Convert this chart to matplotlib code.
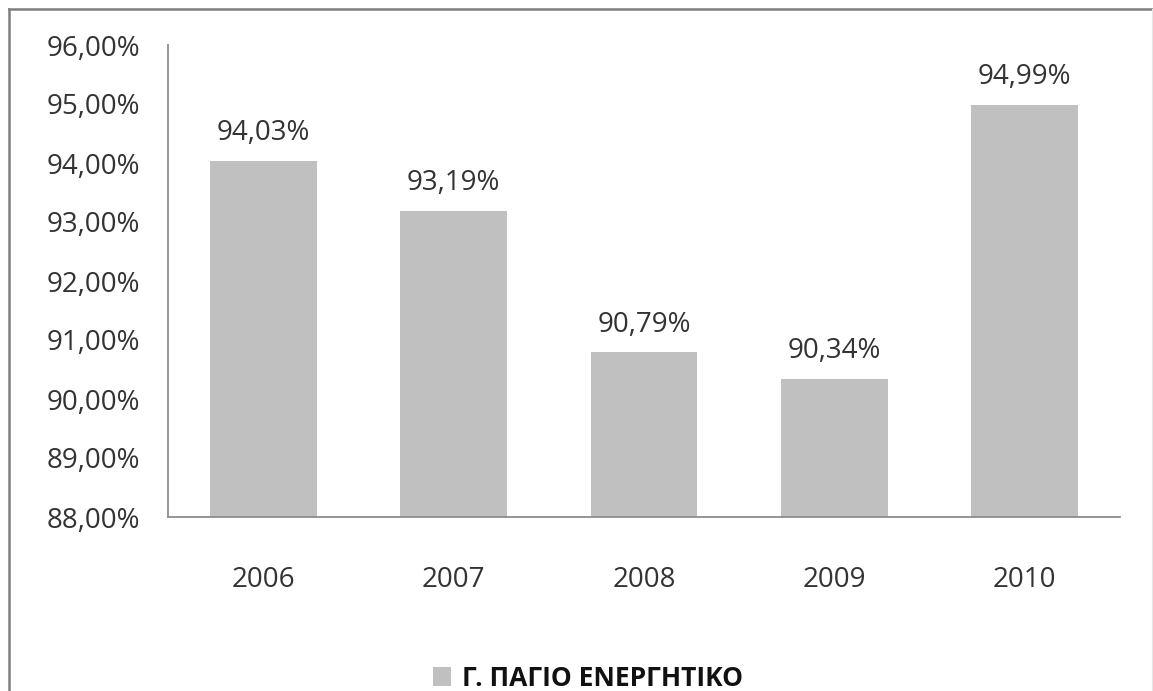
import matplotlib.pyplot as plt
from matplotlib.lines import Line2D

years = ['2006', '2007', '2008', '2009', '2010']
values = [94.03, 93.19, 90.79, 90.34, 94.99]
legend_label = 'Γ. ΠΑΓΙΟ ΕΝΕΡΓΗΤΙΚΟ'

bar_color = '#C0C0C0'
text_color = '#333333'

plt.rcParams['font.family'] = ['Open Sans', 'DejaVu Sans']

fig = plt.figure(figsize=(11.53, 6.91), dpi=100)
ax = fig.add_axes([168 / 1153, 1 - 517 / 691, 952 / 1153, 472 / 691])

x = range(len(years))
ax.bar(x, [v - 88 for v in values], bottom=88, width=0.56,
       color=bar_color, label=legend_label)

for xi, v in zip(x, values):
    ax.annotate(('%.2f%%' % v).replace('.', ','), (xi, v),
                xytext=(0, 10), textcoords='offset points',
                ha='center', va='bottom', fontsize=20, color=text_color)

ax.set_xlim(-0.5, len(years) - 0.5)
ax.set_ylim(88, 96)
ax.set_yticks(range(88, 97))
ax.set_yticklabels([('%.2f%%' % t).replace('.', ',') for t in range(88, 97)],
                   fontsize=20, color=text_color)
ax.set_xticks(list(x))
ax.set_xticklabels(years, fontsize=20, color=text_color)
ax.tick_params(axis='both', length=0)
ax.tick_params(axis='y', pad=20)
ax.tick_params(axis='x', pad=35)

for side in ['top', 'right']:
    ax.spines[side].set_visible(False)
for side in ['left', 'bottom']:
    ax.spines[side].set_color('#8c8c8c')
    ax.spines[side].set_linewidth(1.3)

# legend below the plot
leg = ax.legend(loc='center', bbox_to_anchor=(588 / 1153, 1 - 678 / 691),
                bbox_transform=fig.transFigure, frameon=False,
                handlelength=0.7, handleheight=0.7, handletextpad=0.4,
                prop={'weight': 'bold', 'size': 19})
for t in leg.get_texts():
    t.set_color('#111111')

# outer chart frame (left and top edges)
fig.add_artist(Line2D([8.5 / 1153, 8.5 / 1153], [0, 1 - 8.5 / 691],
                      transform=fig.transFigure, color='#7f7f7f', lw=1.8))
fig.add_artist(Line2D([8.5 / 1153, 1], [1 - 8.5 / 691, 1 - 8.5 / 691],
                      transform=fig.transFigure, color='#7f7f7f', lw=1.8))
fig.add_artist(Line2D([1151.5 / 1153, 1151.5 / 1153], [0, 1 - 8.5 / 691],
                      transform=fig.transFigure, color='#e6e6e6', lw=0.8))

fig.savefig('out.png', dpi=100)
